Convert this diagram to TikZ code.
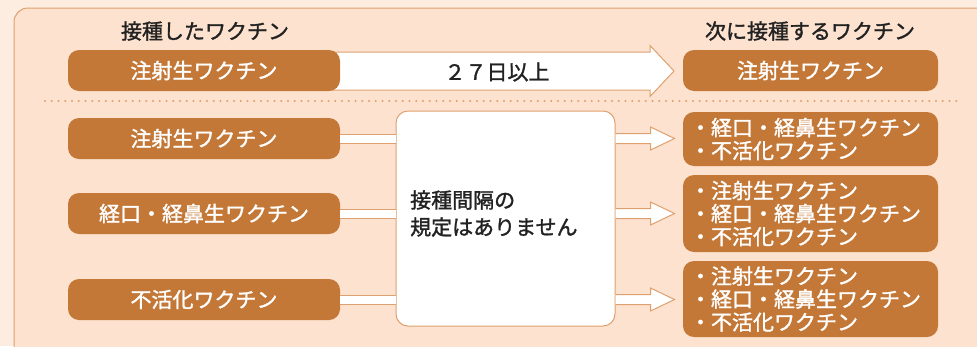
\documentclass[tikz,border=0pt]{standalone}
\usepackage{fontspec}
\setmainfont{Noto Sans CJK JP}
\newfontfamily\medjp[FakeBold=1.4]{Noto Sans CJK JP}
\definecolor{bgout}{RGB}{253,236,224}
\definecolor{bgin}{RGB}{253,226,208}
\definecolor{edge}{RGB}{222,160,110}
\definecolor{pill}{RGB}{195,120,56}
\definecolor{ink}{RGB}{34,34,34}
\tikzset{
  pillbox/.style={fill=pill, rounded corners=11pt, text=white, minimum width=272pt, minimum height=41pt, inner sep=0pt, font=\medjp\fontsize{21}{23}\selectfont},
  rpill/.style={fill=pill, rounded corners=11pt, text=white, minimum width=255pt, text width=241pt, inner xsep=7pt, inner ysep=0pt, align=left, font=\medjp\fontsize{21}{23}\selectfont},
  head/.style={text=ink, font=\medjp\fontsize{21}{23}\selectfont, inner sep=0pt},
  fatline/.style={draw=edge, fill=white, line width=1pt, line join=miter},
  band/.style={draw=edge, line width=1pt, double=white, double distance=8pt},
}
\begin{document}
\begin{tikzpicture}[x=1pt,y=-1pt]
\useasboundingbox (0,0) rectangle (977,346);
\clip (0,0) rectangle (977,346);
\fill[bgout] (0,0) rectangle (977,346);
\draw[edge, fill=bgin, line width=1pt, rounded corners=14pt] (14,8) rectangle (1010,360);

% headers
\node[head] (h1) at (205,31) {接種したワクチン};
\node[head] (h2) at (810,31) {次に接種するワクチン};

% top row
\coordinate (ta) at (330,71);
\path[fatline] (ta) ++(0,-19) -- ++(320,0) -- ++(0,-6.5) -- ++(24,25.5) -- ++(-24,25.5) -- ++(0,-6.5) -- ++(-320,0) -- cycle;
\node[pillbox] (a0) at (204,70.5) {注射生ワクチン};
\node[pillbox, minimum width=255pt] (b0) at (810.5,70.5) {注射生ワクチン};
\node[head] (days) at (497,72) {２７日以上};

% dotted separator
\draw[edge, line width=2.4pt, line cap=round, dash pattern=on 0pt off 6.75pt] (45,101) -- (957,101);

% center box
\node[draw=edge, line width=1pt, fill=white, rounded corners=12pt, minimum width=219pt, minimum height=215pt, inner sep=0pt] (box) at (505.5,218.5) {};
\node[text=ink, font=\medjp\fontsize{21}{27}\selectfont, text width=198pt, align=left, inner sep=0pt, anchor=west] (boxtext) at (410,213.5) {接種間隔の\\規定はありません};

% left pills
\node[pillbox] (l1) at (204,138.5) {注射生ワクチン};
\node[pillbox] (l2) at (204,213.5) {経口・経鼻生ワクチン};
\node[pillbox] (l3) at (204,299.5) {不活化ワクチン};

% right pills
\node[rpill, minimum height=54pt] (r1) at (810.5,139) {・経口・経鼻生ワクチン\\・不活化ワクチン};
\node[rpill, minimum height=77pt] (r2) at (810.5,213.5) {・注射生ワクチン\\・経口・経鼻生ワクチン\\・不活化ワクチン};
\node[rpill, minimum height=76pt] (r3) at (810.5,299) {・注射生ワクチン\\・経口・経鼻生ワクチン\\・不活化ワクチン};

% connectors
\foreach \l in {l1,l2,l3} {
  \draw[band] (\l.east) -- (box.west |- \l.east);
}
\foreach \l/\r in {l1/r1,l2/r2,l3/r3} {
  \path[fatline] (box.east |- \l.east) ++(0,-5) -- ++(35,0) -- ++(0,-6.5) -- ++(24,11.5) -- ++(-24,11.5) -- ++(0,-6.5) -- ++(-35,0);
}
\end{tikzpicture}
\end{document}
